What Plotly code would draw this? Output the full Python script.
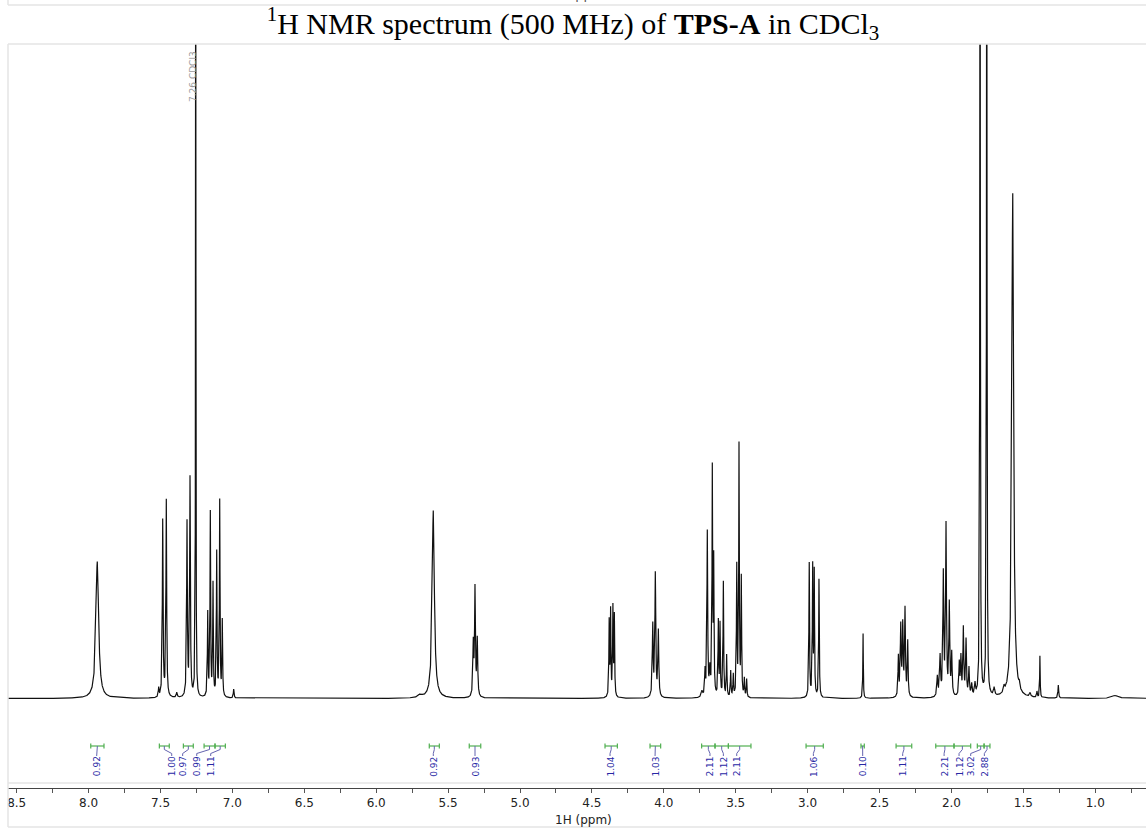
import numpy as np
import plotly.graph_objects as go

# ---------------- data ----------------
peak_shift = [7.9395, 7.5125, 7.4847, 7.4597, 7.387, 7.3157, 7.2948, 7.2552,
              7.1718, 7.1537, 7.1349, 7.1092, 7.0883, 7.0702, 6.991,
              5.695, 5.603, 5.325, 5.313, 5.297,
              4.380, 4.370, 4.354, 4.344,
              4.077, 4.059, 4.038,
              3.735, 3.7135, 3.6975, 3.680, 3.6627, 3.653, 3.621, 3.609, 3.586, 3.563,
              3.535, 3.517, 3.493, 3.477, 3.461, 3.440, 3.424,
              2.989, 2.965, 2.954, 2.921,
              2.6145,
              2.369, 2.3525, 2.3387, 2.3227, 2.304,
              2.098, 2.079, 2.0563, 2.0376, 2.0146, 1.998, 1.9455, 1.934, 1.917,
              1.8985, 1.878, 1.859, 1.836,
              1.801, 1.7545,
              1.703, 1.634, 1.5737, 1.528, 1.453, 1.405, 1.3846, 1.2567, 0.86]
peak_height = [137, 9, 177, 197, 5, 174, 218, 900,
               84, 184, 112, 144, 196, 76, 9,
               3, 188, 52, 108, 57,
               75, 85, 88, 80,
               72, 123, 66,
               6, 25, 165, 25, 225, 132, 75, 72, 115, 42,
               26, 22, 130, 252, 118, 18, 18,
               135, 130, 124, 119,
               65,
               40, 70, 70, 87, 55,
               20, 40, 122, 170, 92, 42, 33, 38, 68,
               56, 28, 12, 12,
               1000, 1000,
               8, 6, 505, 6, 4, 6, 42, 13, 3]
peak_fwhm = [0.022, 0.006, 0.006, 0.006, 0.008, 0.006, 0.006, 0.003,
             0.005, 0.005, 0.005, 0.005, 0.005, 0.005, 0.006,
             0.03, 0.018, 0.007, 0.007, 0.007,
             0.005, 0.005, 0.005, 0.005,
             0.007, 0.007, 0.007,
             0.012, 0.006, 0.006, 0.008, 0.005, 0.005, 0.005, 0.005, 0.005, 0.005,
             0.005, 0.005, 0.005, 0.005, 0.005, 0.005, 0.005,
             0.005, 0.005, 0.005, 0.005,
             0.004,
             0.006, 0.007, 0.007, 0.007, 0.006,
             0.008, 0.008, 0.007, 0.007, 0.007, 0.007, 0.007, 0.007, 0.007,
             0.007, 0.007, 0.008, 0.008,
             0.004, 0.004,
             0.01, 0.01, 0.015, 0.008, 0.01, 0.006, 0.004, 0.006, 0.05]

integral_from = [7.985, 7.508, 7.341, 7.197, 7.121, 5.631, 5.353, 4.409, 4.096,
                 3.737, 3.644, 3.551, 3.011, 2.629, 2.385, 2.109, 1.982, 1.820, 1.773]
integral_to = [7.893, 7.439, 7.272, 7.121, 7.049, 5.561, 5.273, 4.323, 4.022,
               3.644, 3.551, 3.394, 2.891, 2.606, 2.276, 1.982, 1.866, 1.773, 1.732]
integral_value = ["0.92", "1.00", "0.97", "0.99", "1.11", "0.92", "0.93", "1.04", "1.03",
                  "2.11", "1.12", "2.11", "1.06", "0.10", "1.11", "2.21", "1.12", "3.02", "2.88"]
integral_label_at = [7.944, 7.422, 7.346, 7.248, 7.151, 5.603, 5.313, 4.374, 4.061,
                     3.679, 3.586, 3.493, 2.960, 2.617, 2.339, 2.051, 1.947, 1.866, 1.771]

tick_values = [8.5, 8.0, 7.5, 7.0, 6.5, 6.0, 5.5, 5.0, 4.5, 4.0, 3.5, 3.0, 2.5, 2.0, 1.5, 1.0]
tick_labels = ["8.5", "8.0", "7.5", "7.0", "6.5", "6.0", "5.5", "5.0", "4.5", "4.0",
               "3.5", "3.0", "2.5", "2.0", "1.5", "1.0"]
minor_tick_values = [8.25, 7.75, 7.25, 6.75, 6.25, 5.75, 5.25, 4.75, 4.25, 3.75,
                     3.25, 2.75, 2.25, 1.75, 1.25, 0.75]

solvent_text = "7.26 CDCl3"
solvent_shift = 7.26
x_title = "1H (ppm)"
title_html = "<sup>1</sup>H NMR spectrum (500 MHz) of <b>TPS-A</b> in CDCl<sub>3</sub>"

# ---------------- build spectrum from peak list ----------------
ppm = np.arange(0.60, 8.62, 0.0004)
intensity = np.zeros_like(ppm)
for p, h, w in zip(peak_shift, peak_height, peak_fwhm):
    hw = w / 2.0
    intensity += h * hw * hw / ((ppm - p) ** 2 + hw * hw)

# ---------------- geometry helpers ----------------
W, H = 1146, 829
ML, MR, MT, MB = 8, 0, 44, 41
PW, PH = W - ML - MR, H - MT - MB
X_RANGE = [8.5605, 0.647]
Y_RANGE = [-89.5, 654.5]


def py(pix_y):
    """page pixel y -> paper y"""
    return (H - MB - pix_y) / PH


def px(pix_x):
    return (pix_x - ML) / PW


def ppm_per_px():
    return (X_RANGE[0] - X_RANGE[1]) / PW


fig = go.Figure()
fig.add_trace(go.Scatter(x=ppm, y=intensity, mode="lines",
                         line=dict(color="#111111", width=1.2),
                         hoverinfo="skip", showlegend=False))

# integral brackets
BR_Y = -47.5
bx, by = [], []
for s, e in zip(integral_from, integral_to):
    bx += [s, e, None, s, s, None, e, e, None]
    by += [BR_Y, BR_Y, None, BR_Y + 2.5, BR_Y - 2.5, None, BR_Y + 2.5, BR_Y - 2.5, None]
fig.add_trace(go.Scatter(x=bx, y=by, mode="lines",
                         line=dict(color="rgb(80,175,80)", width=1.2),
                         hoverinfo="skip", showlegend=False))

# connectors
cx, cy = [], []
for s, e, lab in zip(integral_from, integral_to, integral_label_at):
    c = (s + e) / 2.0
    cx += [c, c, lab, lab, None]
    cy += [BR_Y, BR_Y - 3.5, BR_Y - 7.5, BR_Y - 10.0, None]
fig.add_trace(go.Scatter(x=cx, y=cy, mode="lines",
                         line=dict(color="rgb(100,100,175)", width=1),
                         hoverinfo="skip", showlegend=False))

annotations = []
for lab, val in zip(integral_label_at, integral_value):
    annotations.append(dict(x=lab, y=BR_Y - 9.5, xref="x", yref="y", text=val,
                            showarrow=False, textangle=-90, xanchor="center",
                            yanchor="top", borderpad=0,
                            font=dict(family="DejaVu Sans", size=9, color="rgb(40,40,165)")))

# solvent label
annotations.append(dict(x=solvent_shift + 2.5 * ppm_per_px(), y=622, xref="x", yref="y",
                        text=solvent_text, showarrow=False, textangle=-90,
                        xanchor="center", yanchor="middle", borderpad=0,
                        font=dict(family="DejaVu Sans", size=9, color="#9a9a9a")))

# x-axis title
annotations.append(dict(x=px(583.5), y=py(820), xref="paper", yref="paper",
                        text=x_title, showarrow=False, xanchor="center", yanchor="middle",
                        font=dict(family="DejaVu Sans", size=12, color="#222222")))
# cut-off title of the previous panel at the very top
annotations.append(dict(x=px(579), y=py(3), xref="paper", yref="paper",
                        text=x_title, showarrow=False, xanchor="center", yanchor="bottom",
                        borderpad=0,
                        font=dict(family="DejaVu Sans", size=13, color="#555555")))

frame_col = "#e4e4e4"
shapes = [
    dict(type="line", xref="paper", yref="paper", x0=0, x1=1, y0=py(44), y1=py(44),
         line=dict(color=frame_col, width=1.5)),
    dict(type="line", xref="paper", yref="paper", x0=0, x1=1, y0=py(783), y1=py(783),
         line=dict(color=frame_col, width=1.5)),
    dict(type="line", xref="paper", yref="paper", x0=0, x1=0, y0=py(44), y1=py(827),
         line=dict(color=frame_col, width=1.5)),
    dict(type="line", xref="paper", yref="paper", x0=0, x1=1, y0=py(827), y1=py(827),
         line=dict(color=frame_col, width=1.5)),
    dict(type="line", xref="paper", yref="paper", x0=0, x1=1, y0=py(5), y1=py(5),
         line=dict(color=frame_col, width=1.5)),
    dict(type="line", xref="paper", yref="paper", x0=0, x1=0, y0=py(0), y1=py(5),
         line=dict(color=frame_col, width=1.5)),
]

fig.update_layout(
    width=W, height=H, autosize=False,
    margin=dict(l=ML, r=MR, t=MT, b=MB, pad=0),
    paper_bgcolor="white", plot_bgcolor="white",
    title=dict(text=title_html, x=0.5, xref="container", xanchor="center",
               y=1 - 23 / H, yref="container", yanchor="middle",
               font=dict(family="Liberation Serif", size=30, color="black")),
    xaxis=dict(range=X_RANGE, tickmode="array", tickvals=tick_values, ticktext=tick_labels,
               ticks="outside", ticklen=4, tickwidth=1, tickcolor="#555555",
               showline=True, linecolor="#444444", linewidth=1,
               showgrid=False, zeroline=False, fixedrange=True,
               tickfont=dict(family="DejaVu Sans", size=12, color="#222222"),
               minor=dict(tickmode="array", tickvals=minor_tick_values, ticks="outside",
                          ticklen=4, tickwidth=1, tickcolor="#555555", showgrid=False)),
    yaxis=dict(range=Y_RANGE, visible=False, fixedrange=True),
    annotations=annotations,
    shapes=shapes,
    showlegend=False,
)

fig.write_html("out.html")
